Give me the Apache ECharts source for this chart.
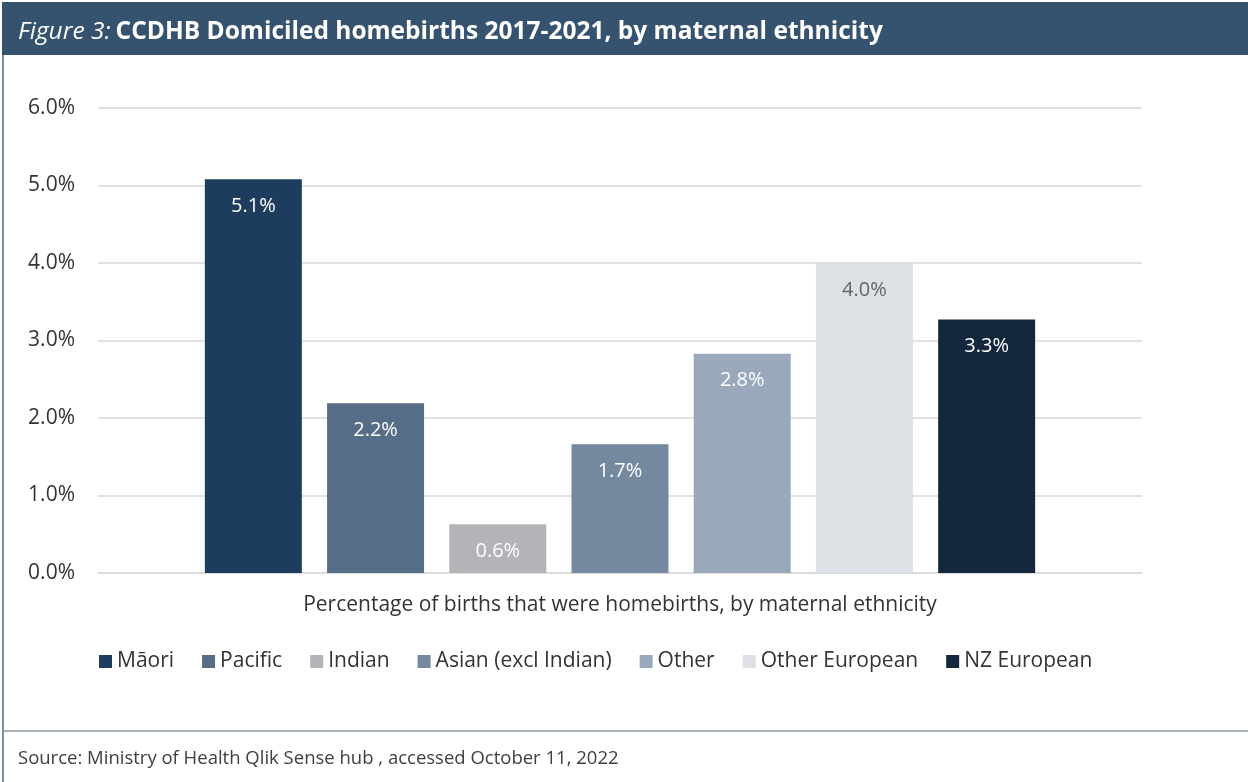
<!DOCTYPE html>
<html>
<head>
<meta charset="utf-8">
<script src="https://cdn.jsdelivr.net/npm/echarts@6/dist/echarts.min.js"></script>
<style>
  html, body { margin: 0; padding: 0; background: #fff; }
  #main { width: 1248px; height: 782px; }
</style>
</head>
<body>
<div id="main"></div>
<script>
// ethnicity groups and homebirth share (%)
var groups = ['Māori', 'Pacific', 'Indian', 'Asian (excl Indian)', 'Other', 'Other European', 'NZ European'];
var values = [5.08, 2.19, 0.63, 1.66, 2.83, 4.0, 3.27];
var colors = ['#1e3d5e', '#566d87', '#b2b4b7', '#74889f', '#99a9bb', '#dde1e6', '#14273c'];
var labelColors = ['#fff', '#fff', '#fff', '#fff', '#fff', '#666', '#fff'];
var yTicks = [0, 1, 2, 3, 4, 5, 6];

var font = '"Open Sans", sans-serif';
var myChart = echarts.init(document.getElementById('main'));

var series = groups.map(function (g, i) {
    return {
        name: g,
        type: 'bar',
        data: [values[i]],
        barWidth: 97,
        barGap: '26%',
        itemStyle: { color: colors[i] },
        label: {
            show: true,
            position: 'insideTop',
            distance: 17,
            fontFamily: font,
            fontSize: 20,
            color: labelColors[i],
            formatter: function (p) { return p.value.toFixed(1) + '%'; }
        }
    };
});

option = {
    animation: false,
    color: colors,
    title: {
        left: 13,
        top: 15,
        text: '{i|Figure 3:} {b|CCDHB Domiciled homebirths 2017-2021, by maternal ethnicity}',
        textStyle: {
            fontWeight: 'normal',
            rich: {
                i: { fontFamily: font, fontStyle: 'italic', fontWeight: 'normal', fontSize: 24.5, color: '#fff' },
                b: { fontFamily: font, fontWeight: 'bold', fontSize: 24.5, color: '#fff' }
            }
        }
    },
    graphic: [
        { type: 'rect', z: -1, shape: { x: 2, y: 2, width: 1246, height: 53 }, style: { fill: '#35526f' } },
        { type: 'line', shape: { x1: 3, y1: 55, x2: 3, y2: 782 }, style: { stroke: '#4d6a8a', lineWidth: 1.5 } },
        { type: 'line', shape: { x1: 3, y1: 731, x2: 1248, y2: 731 }, style: { stroke: '#8a97a6', lineWidth: 1.5 } },
        {
            type: 'text', left: 18, top: 749,
            style: { text: 'Source: Ministry of Health Qlik Sense hub , accessed October 11, 2022', fontFamily: font, fontSize: 18.5, fill: '#404040' }
        }
    ],
    legend: {
        left: 94,
        top: 646,
        itemWidth: 13,
        itemHeight: 13,
        itemGap: 28,
        icon: 'rect',
        textStyle: { fontFamily: font, fontSize: 21, color: '#333' },
        data: groups
    },
    grid: { left: 98, right: 106, top: 108, bottom: 209 },
    xAxis: {
        type: 'category',
        data: [''],
        axisTick: { show: false },
        axisLabel: { show: false },
        axisLine: { lineStyle: { color: '#d9d9d9', width: 1.5 } },
        name: 'Percentage of births that were homebirths, by maternal ethnicity',
        nameLocation: 'middle',
        nameGap: 22,
        nameTextStyle: { fontFamily: font, fontSize: 21, color: '#333' }
    },
    yAxis: {
        type: 'value',
        min: yTicks[0],
        max: yTicks[yTicks.length - 1],
        interval: 1,
        axisLabel: {
            margin: 23,
            fontFamily: font,
            fontSize: 21,
            color: '#333',
            formatter: function (v) { return v.toFixed(1) + '%'; }
        },
        splitLine: { lineStyle: { color: '#d9d9d9', width: 1.5 } }
    },
    series: series
};
myChart.setOption(option);
window.addEventListener('resize', function () { myChart.resize(); });
</script>
</body>
</html>
